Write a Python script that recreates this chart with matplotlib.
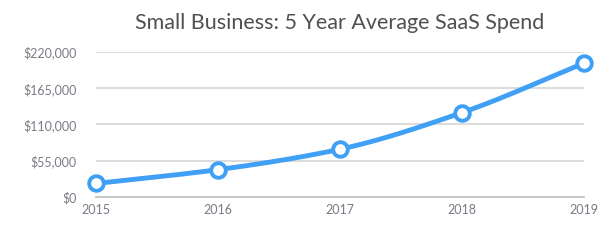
import numpy as np
import matplotlib
matplotlib.use("Agg")
import matplotlib.pyplot as plt
from matplotlib.ticker import FuncFormatter

years = [2015, 2016, 2017, 2018, 2019]
spend = [20500, 41500, 72500, 128000, 203000]
y_ticks = [0, 55000, 110000, 165000, 220000]
title = "Small Business: 5 Year Average SaaS Spend"

plt.rcParams['font.family'] = ['Lato', 'DejaVu Sans']

fig = plt.figure(figsize=(6.12, 2.45), dpi=100)
ax = fig.add_axes([96/612, 1-197/245, (584-96)/612, (197-52)/245])

# smooth curve (monotone cubic Hermite through data points)
x = np.array(years, dtype=float)
y = np.array(spend, dtype=float)
h = np.diff(x)
d = np.diff(y) / h
m = np.zeros_like(y)
m[0], m[-1] = d[0], d[-1]
for i in range(1, len(y) - 1):
    if d[i-1] * d[i] > 0:
        m[i] = 2 / (1/d[i-1] + 1/d[i])
xs, ys = [], []
for i in range(len(x) - 1):
    t = np.linspace(0, 1, 40)
    h00 = 2*t**3 - 3*t**2 + 1
    h10 = t**3 - 2*t**2 + t
    h01 = -2*t**3 + 3*t**2
    h11 = t**3 - t**2
    xs.extend(x[i] + t*h[i])
    ys.extend(h00*y[i] + h10*h[i]*m[i] + h01*y[i+1] + h11*h[i]*m[i+1])

blue = '#3fa0f5'
ax.plot(xs, ys, color=blue, lw=3.5, solid_capstyle='round', zorder=3, clip_on=False)
ax.plot(years, spend, 'o', ms=10.5, mfc='white', mec=blue, mew=2.8, zorder=4, clip_on=False)

ax.set_xlim(2015, 2019)
ax.set_ylim(0, 220000)
ax.set_yticks(y_ticks)
ax.set_xticks(years)
ax.yaxis.set_major_formatter(FuncFormatter(lambda v, p: f"${int(v):,}"))
ax.grid(axis='y', color='#d9d9d9', lw=1.3, zorder=0)
ax.grid(axis='x', visible=False)
for s in ['top', 'right', 'left']:
    ax.spines[s].set_visible(False)
ax.spines['bottom'].set_color('#c4c4c4')
ax.spines['bottom'].set_linewidth(1.3)
ax.tick_params(axis='both', length=0, labelsize=9, labelcolor='#7b7b86')
ax.tick_params(axis='y', pad=14)
ax.tick_params(axis='x', pad=5)

fig.text(340/612, 1-23/245, title, ha='center', va='center', fontsize=15.5, color='#505050')

fig.savefig('out.png', dpi=100, facecolor='white')
